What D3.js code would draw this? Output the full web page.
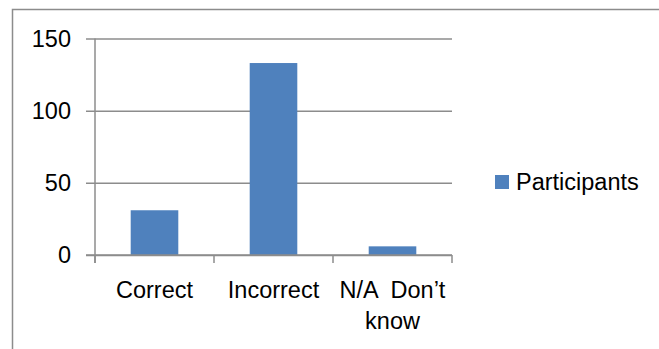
<!DOCTYPE html>
<html>
<head>
<meta charset="utf-8">
<script src="https://cdn.jsdelivr.net/npm/d3@7"></script>
<style>
  html, body { margin: 0; padding: 0; background: #fff; }
  svg { display: block; }
  text { font-family: "Liberation Sans", Arial, sans-serif; fill: #000; }
</style>
</head>
<body>
<svg id="chart" width="659" height="349"></svg>
<script>
// Answer categories (the third one wraps onto two lines)
const categories = ["Correct", "Incorrect", "N/A  Don\u2019t know"];
const categoryLines = [["Correct"], ["Incorrect"], ["N/A  Don\u2019t", "know"]];
// Number of participants per answer
const participants = [31, 133, 6];
const seriesName = "Participants";
const yTicks = [0, 50, 100, 150];

const svg = d3.select("#chart");
const gridColor = "#8c8c8c";
const barColor = "#4f81bd";
const fontSize = 23.5;

// Outer chart border (runs off the right and bottom edges)
svg.append("rect")
  .attr("x", 12.5).attr("y", 9.5)
  .attr("width", 700).attr("height", 400)
  .attr("fill", "none")
  .attr("stroke", gridColor)
  .attr("stroke-width", 1.5);

const plot = { left: 95, right: 452, top: 38.5, bottom: 255 };

const x = d3.scaleBand()
  .domain(categories)
  .range([plot.left, plot.right])
  .paddingInner(0.6)
  .paddingOuter(0.3);

const y = d3.scaleLinear()
  .domain([0, 150])
  .range([plot.bottom, plot.top]);

// Horizontal gridlines with their short left tick marks
const yAxis = d3.axisLeft(y)
  .tickValues(yTicks)
  .tickSize(-(plot.right - plot.left))
  .tickSizeOuter(0)
  .tickPadding(16)
  .tickFormat(d3.format("d"));

const gy = svg.append("g")
  .attr("transform", `translate(${plot.left},0)`)
  .call(yAxis);
gy.select(".domain").remove();
gy.selectAll(".tick line")
  .attr("x1", -9)
  .attr("stroke", gridColor)
  .attr("stroke-width", 1.5);
gy.selectAll(".tick text")
  .attr("x", -24)
  .style("font-size", fontSize + "px")
  .style("font-family", "'Liberation Sans', Arial, sans-serif")
  .attr("fill", "#000");

// Vertical axis line
svg.append("line")
  .attr("x1", plot.left).attr("x2", plot.left)
  .attr("y1", y(150)).attr("y2", plot.bottom + 8)
  .attr("stroke", gridColor).attr("stroke-width", 1.5);

// Bars
svg.append("g")
  .selectAll("rect")
  .data(participants)
  .join("rect")
  .attr("x", (d, i) => x(categories[i]))
  .attr("width", x.bandwidth())
  .attr("y", d => y(d))
  .attr("height", d => y(0) - y(d))
  .attr("fill", barColor);

// Category axis: baseline and band-boundary ticks
const boundaries = d3.range(categories.length + 1).map(i => plot.left + i * (plot.right - plot.left) / categories.length);
svg.append("line")
  .attr("x1", plot.left - 9).attr("x2", plot.right)
  .attr("y1", plot.bottom).attr("y2", plot.bottom)
  .attr("stroke", gridColor).attr("stroke-width", 1.5);
svg.append("g")
  .selectAll("line")
  .data(boundaries)
  .join("line")
  .attr("x1", d => d).attr("x2", d => d)
  .attr("y1", plot.bottom).attr("y2", plot.bottom + 8)
  .attr("stroke", gridColor).attr("stroke-width", 1.5);

// Category labels
const labels = svg.append("g")
  .selectAll("text")
  .data(categories)
  .join("text")
  .attr("text-anchor", "middle")
  .style("font-size", fontSize + "px")
  .attr("x", d => x(d) + x.bandwidth() / 2)
  .attr("y", 297.5);
labels.each(function(d, i) {
  const t = d3.select(this);
  categoryLines[i].forEach((line, k) => {
    t.append("tspan")
      .attr("x", x(d) + x.bandwidth() / 2)
      .attr("dy", k === 0 ? 0 : 31)
      .attr("xml:space", "preserve")
      .style("white-space", "pre")
      .text(line);
  });
});

// Legend
const legend = svg.append("g").attr("transform", "translate(495,175)");
legend.append("rect")
  .attr("width", 14).attr("height", 14)
  .attr("fill", barColor);
legend.append("text")
  .attr("x", 21).attr("y", 15)
  .style("font-size", fontSize + "px")
  .text(seriesName);
</script>
</body>
</html>
